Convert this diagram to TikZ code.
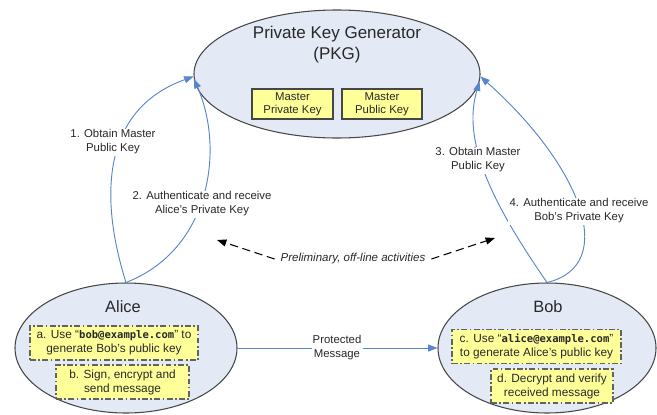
\documentclass[tikz,border=0pt]{standalone}
\usepackage{fontspec}
\setmainfont{Liberation Sans}
\newfontfamily\mailfont{DejaVu Sans Mono}[Scale=0.89]
\usepackage{tikz}
\usetikzlibrary{arrows.meta,shapes.geometric}

\definecolor{pkgfill}{RGB}{227,234,246}
\definecolor{rimgray}{RGB}{70,70,70}
\definecolor{keyyellow}{RGB}{255,255,153}
\definecolor{flowblue}{RGB}{88,134,206}
\definecolor{textgray}{RGB}{40,40,40}

\tikzset{
  party/.style={ellipse, draw=rimgray, line width=0.9pt, fill=pkgfill, inner sep=0pt},
  masterbox/.style={draw=rimgray, line width=1pt, fill=keyyellow, align=center,
    inner sep=0pt, minimum height=0.9cm, text=textgray, font=\fontsize{9.7}{11.4}\selectfont},
  stepbox/.style={draw=rimgray!85, line width=1.2pt, dash pattern=on 5pt off 2pt on 1.5pt off 2pt,
    fill=keyyellow, align=center, inner sep=0pt, minimum height=1.02cm, text=textgray,
    font=\fontsize{10.1}{12}\selectfont},
  flow/.style={draw=flowblue, line width=0.8pt, -{Triangle[length=8pt,width=6pt]}},
  flowlabel/.style={fill=white, align=center, inner sep=1pt, text=textgray,
    font=\fontsize{9.7}{12}\selectfont},
  offline/.style={black, line width=0.9pt, dash pattern=on 7pt off 4pt, -{Triangle[length=8pt,width=6pt]}},
}

\begin{document}
\begin{tikzpicture}[x=0.03cm, y=-0.03cm]
    %% Background
    \useasboundingbox (0,0) rectangle (657,414);

    %% Key generator
    \node[party, minimum width=8.58cm, minimum height=3.84cm] (pkg) at (337,74) {};
    \node[align=center, text=textgray, font=\fontsize{14.5}{18}\selectfont] (pkgtitle) at (337,45) {Private Key Generator\\(PKG)};
    \node[masterbox, minimum width=2.43cm] (mpriv) at (292.5,104) {Master\\Private Key};
    \node[masterbox, minimum width=2.4cm] (mpub) at (382,104) {Master\\Public Key};

    %% Alice
    \node[party, minimum width=6.66cm, minimum height=3.9cm] (alice) at (126,348) {};
    \node[text=textgray, font=\fontsize{14}{16}\selectfont] (alicename) at (123,307) {Alice};
    \node[stepbox, minimum width=5.04cm] (stepa) at (114,343) {a. Use “{\mailfont\bfseries bob@example.com}” to\\generate Bob's public key};
    \node[stepbox, minimum width=3.99cm] (stepb) at (122.5,382) {b. Sign, encrypt and\\send message};

    %% Bob
    \node[party, minimum width=6.54cm, minimum height=3.9cm] (bob) at (547,348) {};
    \node[text=textgray, font=\fontsize{14}{16}\selectfont] (bobname) at (548,307) {Bob};
    \node[stepbox, minimum width=5.07cm] (stepc) at (536.5,346.5) {c. Use “{\mailfont\bfseries alice@example.com}”\\to generate Alice's public key};
    \node[stepbox, minimum width=3.66cm] (stepd) at (552,386) {d. Decrypt and verify\\received message};

    %% Key requests
    \draw[flow] (alice.north) .. controls (100,200) and (100,110) .. (pkg.181);
    \draw[flow] (alice.north) .. controls (210,250) and (225,150) .. (pkg.182);
    \draw[flow] (bob.north) .. controls (490,200) and (462,140) .. (pkg.-3);
    \draw[flow] (bob.north) .. controls (620,265) and (580,165) .. (pkg.-1);
    \draw[flow] (alice.east) -- (bob.west);

    %% Notes
    \node[flowlabel] (obtainA) at (113,142) {1. Obtain Master\\Public Key};
    \node[flowlabel] (authA) at (202,204) {2. Authenticate and receive\\Alice's Private Key};
    \node[flowlabel] (obtainB) at (478,160) {3. Obtain Master\\Public Key};
    \node[flowlabel] (authB) at (579,211) {4. Authenticate and receive\\Bob's Private Key};
    \node[flowlabel] (protmsg) at (337,348) {Protected\\Message};

    %% Off-line phase
    \node[inner sep=5pt, text=textgray, font=\fontsize{9.8}{12}\selectfont\itshape] (prelim) at (353,259) {Preliminary, off-line activities};
    \coordinate (prelimL) at (217,240);
    \coordinate (prelimR) at (495,238);
    \draw[offline] (prelim.west) -- (prelimL);
    \draw[offline] (prelim.east) -- (prelimR);
\end{tikzpicture}
\end{document}
